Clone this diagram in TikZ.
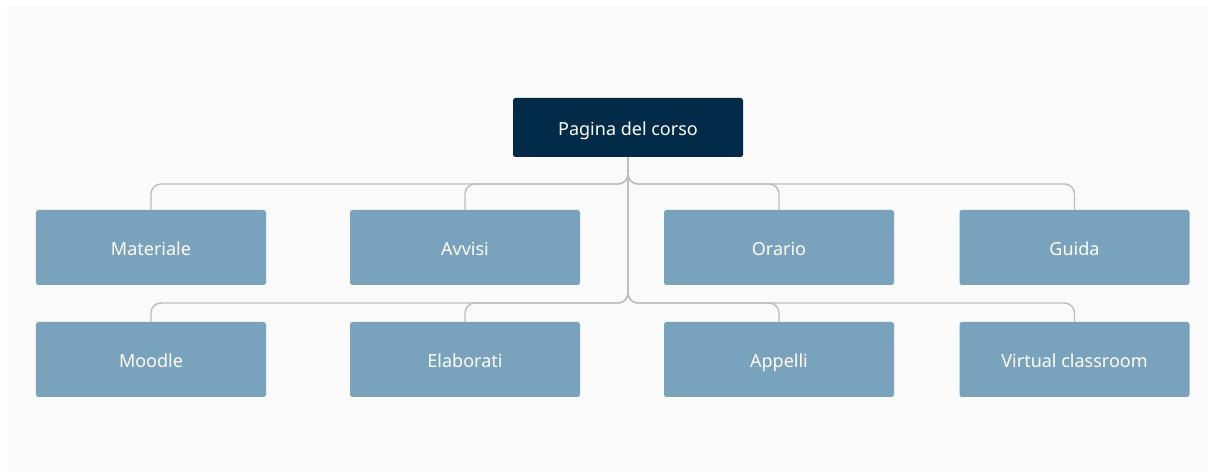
\documentclass[tikz,border=0pt]{standalone}
\usepackage{fontspec}
\setmainfont{Noto Sans}
\definecolor{bgc}{HTML}{FAFAFA}
\definecolor{rootc}{HTML}{022B49}
\definecolor{boxc}{HTML}{79A2BC}
\definecolor{linec}{HTML}{BDBDBD}
\begin{document}
\begin{tikzpicture}[x=1bp,y=-1bp,
  basebox/.style={text=white,rounded corners=2.5bp,minimum width=230bp,inner sep=0pt,text height=15.5bp,text depth=0bp,font=\fontsize{18bp}{21bp}\selectfont},
  rootbox/.style={basebox,fill=rootc,minimum height=59bp},
  leafbox/.style={basebox,fill=boxc,minimum height=75bp},
  conn/.style={draw=linec,line width=1.4bp,rounded corners=10bp}]
\useasboundingbox (0,0) rectangle (1208,472);
\fill[white] (0,0) rectangle (1208,472);
\fill[bgc] (7,6) rectangle (1208,472);
\node[rootbox] (root) at (628,127.5) {Pagina del corso};
\node[leafbox] (a1) at (151,247.5) {Materiale};
\node[leafbox] (a2) at (465,247.5) {Avvisi};
\node[leafbox] (a3) at (779,247.5) {Orario};
\node[leafbox] (a4) at (1074.5,247.5) {Guida};
\node[leafbox] (b1) at (151,359.5) {Moodle};
\node[leafbox] (b2) at (465,359.5) {Elaborati};
\node[leafbox] (b3) at (779,359.5) {Appelli};
\node[leafbox] (b4) at (1074.5,359.5) {Virtual classroom};
\coordinate (bus1) at (628,184);
\coordinate (bus2) at (628,303);
\foreach \n in {a1,a2,a3,a4}{\draw[conn] (root.south) -- (bus1) -| (\n.north);}
\foreach \n in {b1,b2,b3,b4}{\draw[conn] (root.south) -- (bus2) -| (\n.north);}
\end{tikzpicture}
\end{document}
